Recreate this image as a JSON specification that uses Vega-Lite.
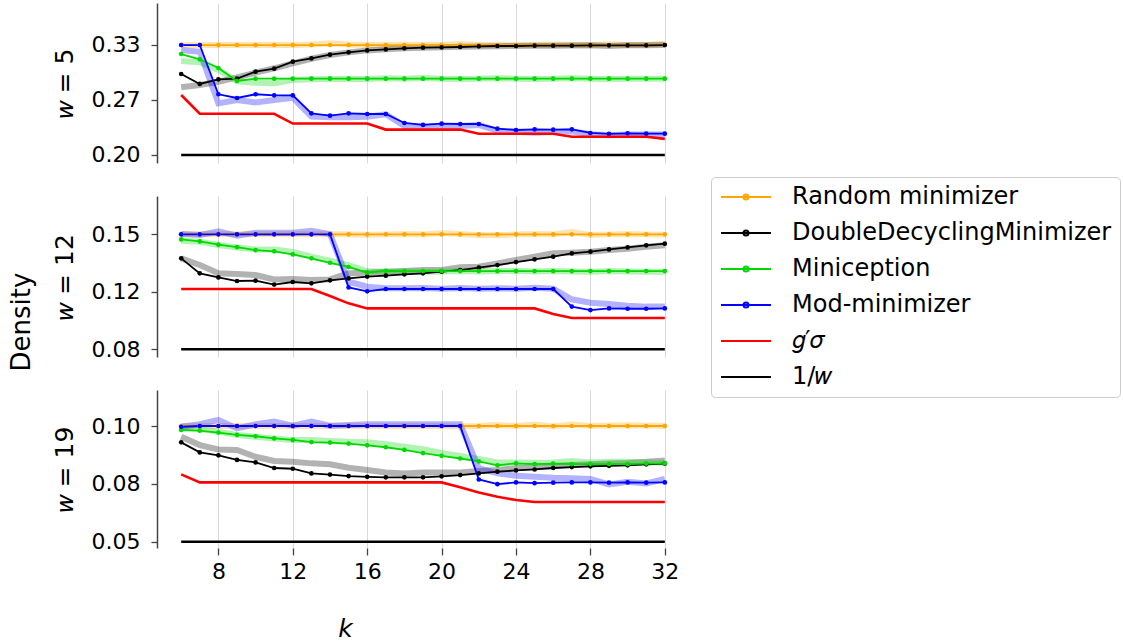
{
 "$schema": "https://vega.github.io/schema/vega-lite/v6.json",
 "padding": {"left": 9, "top": 3, "right": 0, "bottom": 0},
 "background": "white",
 "title": {"text": "Density", "orient": "left", "fontSize": 26, "font": "DejaVu Sans", "fontWeight": "normal", "color": "black", "anchor": "middle", "offset": 17},
 "config": {
  "font": "DejaVu Sans",
  "view": {"stroke": null},
  "axis": {"labelFont": "DejaVu Sans", "labelFontSize": 22, "labelColor": "black", "titleFont": "DejaVu Sans", "titleFontSize": 25, "titleFontWeight": "normal", "titleColor": "black", "grid": false},
  "legend": {"labelFont": "DejaVu Sans", "labelFontSize": 24, "labelColor": "black", "labelLimit": 0}
 },
 "datasets": {"d": [
  {"w":5,"k":6,"s":"R","v":0.3333,"b":0.3333},{"w":5,"k":7,"s":"R","v":0.3333,"b":0.3333},{"w":5,"k":8,"s":"R","v":0.3333,"b":0.3333},{"w":5,"k":9,"s":"R","v":0.3333,"b":0.3333},{"w":5,"k":10,"s":"R","v":0.3333,"b":0.3333},{"w":5,"k":11,"s":"R","v":0.3333,"b":0.3336},{"w":5,"k":12,"s":"R","v":0.3333,"b":0.3333},{"w":5,"k":13,"s":"R","v":0.3333,"b":0.3338},{"w":5,"k":14,"s":"R","v":0.3333,"b":0.3355},{"w":5,"k":15,"s":"R","v":0.3333,"b":0.3338},{"w":5,"k":16,"s":"R","v":0.3333,"b":0.3333},{"w":5,"k":17,"s":"R","v":0.3333,"b":0.3333},{"w":5,"k":18,"s":"R","v":0.3333,"b":0.3336},{"w":5,"k":19,"s":"R","v":0.3333,"b":0.3333},{"w":5,"k":20,"s":"R","v":0.3333,"b":0.3333},{"w":5,"k":21,"s":"R","v":0.3333,"b":0.3345},{"w":5,"k":22,"s":"R","v":0.3333,"b":0.3333},{"w":5,"k":23,"s":"R","v":0.3333,"b":0.3336},{"w":5,"k":24,"s":"R","v":0.3333,"b":0.3333},{"w":5,"k":25,"s":"R","v":0.3333,"b":0.3333},{"w":5,"k":26,"s":"R","v":0.3333,"b":0.3338},{"w":5,"k":27,"s":"R","v":0.3333,"b":0.3333},{"w":5,"k":28,"s":"R","v":0.3333,"b":0.3333},{"w":5,"k":29,"s":"R","v":0.3333,"b":0.3343},{"w":5,"k":30,"s":"R","v":0.3333,"b":0.3333},{"w":5,"k":31,"s":"R","v":0.3333,"b":0.3336},{"w":5,"k":32,"s":"R","v":0.3333,"b":0.3348},
  {"w":5,"k":6,"s":"D","v":0.2982,"b":0.2820},{"w":5,"k":7,"s":"D","v":0.2861,"b":0.2848},{"w":5,"k":8,"s":"D","v":0.2917,"b":0.2888},{"w":5,"k":9,"s":"D","v":0.2925,"b":0.2941},{"w":5,"k":10,"s":"D","v":0.3010,"b":0.2998},{"w":5,"k":11,"s":"D","v":0.3046,"b":0.3051},{"w":5,"k":12,"s":"D","v":0.3131,"b":0.3111},{"w":5,"k":13,"s":"D","v":0.3171,"b":0.3167},{"w":5,"k":14,"s":"D","v":0.3216,"b":0.3212},{"w":5,"k":15,"s":"D","v":0.3244,"b":0.3244},{"w":5,"k":16,"s":"D","v":0.3268,"b":0.3268},{"w":5,"k":17,"s":"D","v":0.3280,"b":0.3282},{"w":5,"k":18,"s":"D","v":0.3293,"b":0.3293},{"w":5,"k":19,"s":"D","v":0.3301,"b":0.3301},{"w":5,"k":20,"s":"D","v":0.3305,"b":0.3307},{"w":5,"k":21,"s":"D","v":0.3309,"b":0.3311},{"w":5,"k":22,"s":"D","v":0.3317,"b":0.3315},{"w":5,"k":23,"s":"D","v":0.3321,"b":0.3319},{"w":5,"k":24,"s":"D","v":0.3321,"b":0.3321},{"w":5,"k":25,"s":"D","v":0.3325,"b":0.3323},{"w":5,"k":26,"s":"D","v":0.3325,"b":0.3325},{"w":5,"k":27,"s":"D","v":0.3325,"b":0.3327},{"w":5,"k":28,"s":"D","v":0.3329,"b":0.3329},{"w":5,"k":29,"s":"D","v":0.3329,"b":0.3322},{"w":5,"k":30,"s":"D","v":0.3329,"b":0.3329},{"w":5,"k":31,"s":"D","v":0.3329,"b":0.3331},{"w":5,"k":32,"s":"D","v":0.3333,"b":0.3333},
  {"w":5,"k":6,"s":"M","v":0.3224,"b":0.3139},{"w":5,"k":7,"s":"M","v":0.3160,"b":0.3123},{"w":5,"k":8,"s":"M","v":0.3054,"b":0.3030},{"w":5,"k":9,"s":"M","v":0.2897,"b":0.2893},{"w":5,"k":10,"s":"M","v":0.2925,"b":0.2877},{"w":5,"k":11,"s":"M","v":0.2925,"b":0.2869},{"w":5,"k":12,"s":"M","v":0.2925,"b":0.2909},{"w":5,"k":13,"s":"M","v":0.2925,"b":0.2917},{"w":5,"k":14,"s":"M","v":0.2925,"b":0.2921},{"w":5,"k":15,"s":"M","v":0.2925,"b":0.2925},{"w":5,"k":16,"s":"M","v":0.2925,"b":0.2921},{"w":5,"k":17,"s":"M","v":0.2925,"b":0.2929},{"w":5,"k":18,"s":"M","v":0.2925,"b":0.2925},{"w":5,"k":19,"s":"M","v":0.2925,"b":0.2933},{"w":5,"k":20,"s":"M","v":0.2925,"b":0.2925},{"w":5,"k":21,"s":"M","v":0.2925,"b":0.2921},{"w":5,"k":22,"s":"M","v":0.2925,"b":0.2925},{"w":5,"k":23,"s":"M","v":0.2925,"b":0.2929},{"w":5,"k":24,"s":"M","v":0.2925,"b":0.2925},{"w":5,"k":25,"s":"M","v":0.2925,"b":0.2921},{"w":5,"k":26,"s":"M","v":0.2925,"b":0.2925},{"w":5,"k":27,"s":"M","v":0.2925,"b":0.2929},{"w":5,"k":28,"s":"M","v":0.2925,"b":0.2925},{"w":5,"k":29,"s":"M","v":0.2925,"b":0.2921},{"w":5,"k":30,"s":"M","v":0.2925,"b":0.2925},{"w":5,"k":31,"s":"M","v":0.2925,"b":0.2925},{"w":5,"k":32,"s":"M","v":0.2925,"b":0.2925},
  {"w":5,"k":6,"s":"X","v":0.3333,"b":0.3273},{"w":5,"k":7,"s":"X","v":0.3333,"b":0.3252},{"w":5,"k":8,"s":"X","v":0.2736,"b":0.2626},{"w":5,"k":9,"s":"X","v":0.2691,"b":0.2667},{"w":5,"k":10,"s":"X","v":0.2736,"b":0.2638},{"w":5,"k":11,"s":"X","v":0.2723,"b":0.2667},{"w":5,"k":12,"s":"X","v":0.2723,"b":0.2695},{"w":5,"k":13,"s":"X","v":0.2505,"b":0.2465},{"w":5,"k":14,"s":"X","v":0.2477,"b":0.2457},{"w":5,"k":15,"s":"X","v":0.2505,"b":0.2457},{"w":5,"k":16,"s":"X","v":0.2497,"b":0.2465},{"w":5,"k":17,"s":"X","v":0.2497,"b":0.2493},{"w":5,"k":18,"s":"X","v":0.2388,"b":0.2352},{"w":5,"k":19,"s":"X","v":0.2364,"b":0.2344},{"w":5,"k":20,"s":"X","v":0.2380,"b":0.2352},{"w":5,"k":21,"s":"X","v":0.2376,"b":0.2352},{"w":5,"k":22,"s":"X","v":0.2376,"b":0.2364},{"w":5,"k":23,"s":"X","v":0.2319,"b":0.2295},{"w":5,"k":24,"s":"X","v":0.2303,"b":0.2283},{"w":5,"k":25,"s":"X","v":0.2311,"b":0.2271},{"w":5,"k":26,"s":"X","v":0.2307,"b":0.2279},{"w":5,"k":27,"s":"X","v":0.2311,"b":0.2287},{"w":5,"k":28,"s":"X","v":0.2267,"b":0.2251},{"w":5,"k":29,"s":"X","v":0.2255,"b":0.2239},{"w":5,"k":30,"s":"X","v":0.2263,"b":0.2247},{"w":5,"k":31,"s":"X","v":0.2259,"b":0.2247},{"w":5,"k":32,"s":"X","v":0.2259,"b":0.2247},
  {"w":5,"k":6,"s":"G","v":0.2727},{"w":5,"k":7,"s":"G","v":0.25},{"w":5,"k":8,"s":"G","v":0.25},{"w":5,"k":9,"s":"G","v":0.25},{"w":5,"k":10,"s":"G","v":0.25},{"w":5,"k":11,"s":"G","v":0.25},{"w":5,"k":12,"s":"G","v":0.2381},{"w":5,"k":13,"s":"G","v":0.2381},{"w":5,"k":14,"s":"G","v":0.2381},{"w":5,"k":15,"s":"G","v":0.2381},{"w":5,"k":16,"s":"G","v":0.2381},{"w":5,"k":17,"s":"G","v":0.2308},{"w":5,"k":18,"s":"G","v":0.2308},{"w":5,"k":19,"s":"G","v":0.2308},{"w":5,"k":20,"s":"G","v":0.2308},{"w":5,"k":21,"s":"G","v":0.2308},{"w":5,"k":22,"s":"G","v":0.2258},{"w":5,"k":23,"s":"G","v":0.2258},{"w":5,"k":24,"s":"G","v":0.2258},{"w":5,"k":25,"s":"G","v":0.2258},{"w":5,"k":26,"s":"G","v":0.2258},{"w":5,"k":27,"s":"G","v":0.2222},{"w":5,"k":28,"s":"G","v":0.2222},{"w":5,"k":29,"s":"G","v":0.2222},{"w":5,"k":30,"s":"G","v":0.2222},{"w":5,"k":31,"s":"G","v":0.2222},{"w":5,"k":32,"s":"G","v":0.2195},
  {"w":5,"k":6,"s":"W","v":0.2},{"w":5,"k":32,"s":"W","v":0.2},
  {"w":12,"k":6,"s":"R","v":0.1538,"b":0.1538},{"w":12,"k":7,"s":"R","v":0.1538,"b":0.1538},{"w":12,"k":8,"s":"R","v":0.1538,"b":0.1538},{"w":12,"k":9,"s":"R","v":0.1538,"b":0.1538},{"w":12,"k":10,"s":"R","v":0.1538,"b":0.1538},{"w":12,"k":11,"s":"R","v":0.1538,"b":0.1538},{"w":12,"k":12,"s":"R","v":0.1538,"b":0.1538},{"w":12,"k":13,"s":"R","v":0.1538,"b":0.1538},{"w":12,"k":14,"s":"R","v":0.1538,"b":0.1538},{"w":12,"k":15,"s":"R","v":0.1538,"b":0.1538},{"w":12,"k":16,"s":"R","v":0.1538,"b":0.1535},{"w":12,"k":17,"s":"R","v":0.1538,"b":0.1538},{"w":12,"k":18,"s":"R","v":0.1538,"b":0.1540},{"w":12,"k":19,"s":"R","v":0.1538,"b":0.1538},{"w":12,"k":20,"s":"R","v":0.1538,"b":0.1546},{"w":12,"k":21,"s":"R","v":0.1538,"b":0.1540},{"w":12,"k":22,"s":"R","v":0.1538,"b":0.1534},{"w":12,"k":23,"s":"R","v":0.1538,"b":0.1533},{"w":12,"k":24,"s":"R","v":0.1538,"b":0.1538},{"w":12,"k":25,"s":"R","v":0.1538,"b":0.1540},{"w":12,"k":26,"s":"R","v":0.1538,"b":0.1538},{"w":12,"k":27,"s":"R","v":0.1538,"b":0.1552},{"w":12,"k":28,"s":"R","v":0.1538,"b":0.1534},{"w":12,"k":29,"s":"R","v":0.1538,"b":0.1538},{"w":12,"k":30,"s":"R","v":0.1538,"b":0.1541},{"w":12,"k":31,"s":"R","v":0.1538,"b":0.1538},{"w":12,"k":32,"s":"R","v":0.1538,"b":0.1535},
  {"w":12,"k":6,"s":"D","v":0.1391,"b":0.1391},{"w":12,"k":7,"s":"D","v":0.1299,"b":0.1350},{"w":12,"k":8,"s":"D","v":0.1274,"b":0.1299},{"w":12,"k":9,"s":"D","v":0.1252,"b":0.1295},{"w":12,"k":10,"s":"D","v":0.1254,"b":0.1289},{"w":12,"k":11,"s":"D","v":0.1230,"b":0.1262},{"w":12,"k":12,"s":"D","v":0.1246,"b":0.1264},{"w":12,"k":13,"s":"D","v":0.1238,"b":0.1258},{"w":12,"k":14,"s":"D","v":0.1256,"b":0.1262},{"w":12,"k":15,"s":"D","v":0.1268,"b":0.1299},{"w":12,"k":16,"s":"D","v":0.1279,"b":0.1303},{"w":12,"k":17,"s":"D","v":0.1285,"b":0.1309},{"w":12,"k":18,"s":"D","v":0.1293,"b":0.1313},{"w":12,"k":19,"s":"D","v":0.1299,"b":0.1319},{"w":12,"k":20,"s":"D","v":0.1309,"b":0.1319},{"w":12,"k":21,"s":"D","v":0.1319,"b":0.1336},{"w":12,"k":22,"s":"D","v":0.1334,"b":0.1340},{"w":12,"k":23,"s":"D","v":0.1350,"b":0.1360},{"w":12,"k":24,"s":"D","v":0.1368,"b":0.1381},{"w":12,"k":25,"s":"D","v":0.1385,"b":0.1401},{"w":12,"k":26,"s":"D","v":0.1401,"b":0.1422},{"w":12,"k":27,"s":"D","v":0.1422,"b":0.1426},{"w":12,"k":28,"s":"D","v":0.1432,"b":0.1432},{"w":12,"k":29,"s":"D","v":0.1446,"b":0.1442},{"w":12,"k":30,"s":"D","v":0.1458,"b":0.1450},{"w":12,"k":31,"s":"D","v":0.1471,"b":0.1462},{"w":12,"k":32,"s":"D","v":0.1481,"b":0.1471},
  {"w":12,"k":6,"s":"M","v":0.1507,"b":0.1499},{"w":12,"k":7,"s":"M","v":0.1495,"b":0.1493},{"w":12,"k":8,"s":"M","v":0.1475,"b":0.1473},{"w":12,"k":9,"s":"M","v":0.1460,"b":0.1458},{"w":12,"k":10,"s":"M","v":0.1442,"b":0.1446},{"w":12,"k":11,"s":"M","v":0.1434,"b":0.1446},{"w":12,"k":12,"s":"M","v":0.1415,"b":0.1430},{"w":12,"k":13,"s":"M","v":0.1391,"b":0.1401},{"w":12,"k":14,"s":"M","v":0.1364,"b":0.1377},{"w":12,"k":15,"s":"M","v":0.1338,"b":0.1350},{"w":12,"k":16,"s":"M","v":0.1303,"b":0.1313},{"w":12,"k":17,"s":"M","v":0.1315,"b":0.1309},{"w":12,"k":18,"s":"M","v":0.1313,"b":0.1311},{"w":12,"k":19,"s":"M","v":0.1313,"b":0.1309},{"w":12,"k":20,"s":"M","v":0.1313,"b":0.1311},{"w":12,"k":21,"s":"M","v":0.1313,"b":0.1313},{"w":12,"k":22,"s":"M","v":0.1313,"b":0.1311},{"w":12,"k":23,"s":"M","v":0.1313,"b":0.1313},{"w":12,"k":24,"s":"M","v":0.1313,"b":0.1315},{"w":12,"k":25,"s":"M","v":0.1313,"b":0.1311},{"w":12,"k":26,"s":"M","v":0.1313,"b":0.1313},{"w":12,"k":27,"s":"M","v":0.1313,"b":0.1311},{"w":12,"k":28,"s":"M","v":0.1313,"b":0.1309},{"w":12,"k":29,"s":"M","v":0.1313,"b":0.1313},{"w":12,"k":30,"s":"M","v":0.1313,"b":0.1311},{"w":12,"k":31,"s":"M","v":0.1313,"b":0.1309},{"w":12,"k":32,"s":"M","v":0.1313,"b":0.1309},
  {"w":12,"k":6,"s":"X","v":0.1538,"b":0.1540},{"w":12,"k":7,"s":"X","v":0.1538,"b":0.1534},{"w":12,"k":8,"s":"X","v":0.1538,"b":0.1556},{"w":12,"k":9,"s":"X","v":0.1538,"b":0.1530},{"w":12,"k":10,"s":"X","v":0.1538,"b":0.1548},{"w":12,"k":11,"s":"X","v":0.1538,"b":0.1548},{"w":12,"k":12,"s":"X","v":0.1538,"b":0.1548},{"w":12,"k":13,"s":"X","v":0.1538,"b":0.1560},{"w":12,"k":14,"s":"X","v":0.1538,"b":0.1540},{"w":12,"k":15,"s":"X","v":0.1213,"b":0.1248},{"w":12,"k":16,"s":"X","v":0.1189,"b":0.1217},{"w":12,"k":17,"s":"X","v":0.1203,"b":0.1207},{"w":12,"k":18,"s":"X","v":0.1203,"b":0.1207},{"w":12,"k":19,"s":"X","v":0.1203,"b":0.1209},{"w":12,"k":20,"s":"X","v":0.1203,"b":0.1205},{"w":12,"k":21,"s":"X","v":0.1203,"b":0.1209},{"w":12,"k":22,"s":"X","v":0.1203,"b":0.1205},{"w":12,"k":23,"s":"X","v":0.1203,"b":0.1207},{"w":12,"k":24,"s":"X","v":0.1203,"b":0.1205},{"w":12,"k":25,"s":"X","v":0.1203,"b":0.1211},{"w":12,"k":26,"s":"X","v":0.1203,"b":0.1205},{"w":12,"k":27,"s":"X","v":0.1095,"b":0.1140},{"w":12,"k":28,"s":"X","v":0.1074,"b":0.1119},{"w":12,"k":29,"s":"X","v":0.1084,"b":0.1111},{"w":12,"k":30,"s":"X","v":0.1082,"b":0.1101},{"w":12,"k":31,"s":"X","v":0.1082,"b":0.1095},{"w":12,"k":32,"s":"X","v":0.1084,"b":0.1095},
  {"w":12,"k":6,"s":"G","v":0.1203},{"w":12,"k":7,"s":"G","v":0.1203},{"w":12,"k":8,"s":"G","v":0.1203},{"w":12,"k":9,"s":"G","v":0.1203},{"w":12,"k":10,"s":"G","v":0.1203},{"w":12,"k":11,"s":"G","v":0.1203},{"w":12,"k":12,"s":"G","v":0.1203},{"w":12,"k":13,"s":"G","v":0.1203},{"w":12,"k":14,"s":"G","v":0.1160},{"w":12,"k":15,"s":"G","v":0.1115},{"w":12,"k":16,"s":"G","v":0.1084},{"w":12,"k":17,"s":"G","v":0.1084},{"w":12,"k":18,"s":"G","v":0.1084},{"w":12,"k":19,"s":"G","v":0.1084},{"w":12,"k":20,"s":"G","v":0.1084},{"w":12,"k":21,"s":"G","v":0.1084},{"w":12,"k":22,"s":"G","v":0.1084},{"w":12,"k":23,"s":"G","v":0.1084},{"w":12,"k":24,"s":"G","v":0.1084},{"w":12,"k":25,"s":"G","v":0.1084},{"w":12,"k":26,"s":"G","v":0.1050},{"w":12,"k":27,"s":"G","v":0.1025},{"w":12,"k":28,"s":"G","v":0.1025},{"w":12,"k":29,"s":"G","v":0.1025},{"w":12,"k":30,"s":"G","v":0.1025},{"w":12,"k":31,"s":"G","v":0.1025},{"w":12,"k":32,"s":"G","v":0.1025},
  {"w":12,"k":6,"s":"W","v":0.08333},{"w":12,"k":32,"s":"W","v":0.08333},
  {"w":19,"k":6,"s":"R","v":0.1,"b":0.1},{"w":19,"k":7,"s":"R","v":0.1,"b":0.1},{"w":19,"k":8,"s":"R","v":0.1,"b":0.1},{"w":19,"k":9,"s":"R","v":0.1,"b":0.1},{"w":19,"k":10,"s":"R","v":0.1,"b":0.1},{"w":19,"k":11,"s":"R","v":0.1,"b":0.1},{"w":19,"k":12,"s":"R","v":0.1,"b":0.1},{"w":19,"k":13,"s":"R","v":0.1,"b":0.1},{"w":19,"k":14,"s":"R","v":0.1,"b":0.1},{"w":19,"k":15,"s":"R","v":0.1,"b":0.1},{"w":19,"k":16,"s":"R","v":0.1,"b":0.1},{"w":19,"k":17,"s":"R","v":0.1,"b":0.1},{"w":19,"k":18,"s":"R","v":0.1,"b":0.1},{"w":19,"k":19,"s":"R","v":0.1,"b":0.1},{"w":19,"k":20,"s":"R","v":0.1,"b":0.1},{"w":19,"k":21,"s":"R","v":0.1,"b":0.0998},{"w":19,"k":22,"s":"R","v":0.1,"b":0.1},{"w":19,"k":23,"s":"R","v":0.1,"b":0.1004},{"w":19,"k":24,"s":"R","v":0.1,"b":0.1},{"w":19,"k":25,"s":"R","v":0.1,"b":0.1006},{"w":19,"k":26,"s":"R","v":0.1,"b":0.0998},{"w":19,"k":27,"s":"R","v":0.1,"b":0.1006},{"w":19,"k":28,"s":"R","v":0.1,"b":0.1},{"w":19,"k":29,"s":"R","v":0.1,"b":0.1002},{"w":19,"k":30,"s":"R","v":0.1,"b":0.1003},{"w":19,"k":31,"s":"R","v":0.1,"b":0.1002},{"w":19,"k":32,"s":"R","v":0.1,"b":0.1},
  {"w":19,"k":6,"s":"D","v":0.0933,"b":0.0956},{"w":19,"k":7,"s":"D","v":0.0892,"b":0.0922},{"w":19,"k":8,"s":"D","v":0.0880,"b":0.0904},{"w":19,"k":9,"s":"D","v":0.0861,"b":0.0902},{"w":19,"k":10,"s":"D","v":0.0851,"b":0.0874},{"w":19,"k":11,"s":"D","v":0.0828,"b":0.0857},{"w":19,"k":12,"s":"D","v":0.0825,"b":0.0854},{"w":19,"k":13,"s":"D","v":0.0806,"b":0.0847},{"w":19,"k":14,"s":"D","v":0.0801,"b":0.0843},{"w":19,"k":15,"s":"D","v":0.0795,"b":0.0829},{"w":19,"k":16,"s":"D","v":0.0792,"b":0.0820},{"w":19,"k":17,"s":"D","v":0.0790,"b":0.0810},{"w":19,"k":18,"s":"D","v":0.0790,"b":0.0806},{"w":19,"k":19,"s":"D","v":0.0790,"b":0.0810},{"w":19,"k":20,"s":"D","v":0.0794,"b":0.0810},{"w":19,"k":21,"s":"D","v":0.0799,"b":0.0810},{"w":19,"k":22,"s":"D","v":0.0806,"b":0.0816},{"w":19,"k":23,"s":"D","v":0.0813,"b":0.0820},{"w":19,"k":24,"s":"D","v":0.0818,"b":0.0827},{"w":19,"k":25,"s":"D","v":0.0822,"b":0.0832},{"w":19,"k":26,"s":"D","v":0.0828,"b":0.0836},{"w":19,"k":27,"s":"D","v":0.0832,"b":0.0840},{"w":19,"k":28,"s":"D","v":0.0835,"b":0.0843},{"w":19,"k":29,"s":"D","v":0.0837,"b":0.0846},{"w":19,"k":30,"s":"D","v":0.0839,"b":0.0849},{"w":19,"k":31,"s":"D","v":0.0843,"b":0.0854},{"w":19,"k":32,"s":"D","v":0.0846,"b":0.0859},
  {"w":19,"k":6,"s":"M","v":0.0984,"b":0.0990},{"w":19,"k":7,"s":"M","v":0.0981,"b":0.0988},{"w":19,"k":8,"s":"M","v":0.0973,"b":0.0977},{"w":19,"k":9,"s":"M","v":0.0964,"b":0.0963},{"w":19,"k":10,"s":"M","v":0.0958,"b":0.0956},{"w":19,"k":11,"s":"M","v":0.0949,"b":0.0949},{"w":19,"k":12,"s":"M","v":0.0943,"b":0.0943},{"w":19,"k":13,"s":"M","v":0.0934,"b":0.0943},{"w":19,"k":14,"s":"M","v":0.0932,"b":0.0939},{"w":19,"k":15,"s":"M","v":0.0928,"b":0.0936},{"w":19,"k":16,"s":"M","v":0.0921,"b":0.0933},{"w":19,"k":17,"s":"M","v":0.0913,"b":0.0925},{"w":19,"k":18,"s":"M","v":0.0902,"b":0.0915},{"w":19,"k":19,"s":"M","v":0.0889,"b":0.0905},{"w":19,"k":20,"s":"M","v":0.0878,"b":0.0890},{"w":19,"k":21,"s":"M","v":0.0867,"b":0.0877},{"w":19,"k":22,"s":"M","v":0.0855,"b":0.0865},{"w":19,"k":23,"s":"M","v":0.0839,"b":0.0851},{"w":19,"k":24,"s":"M","v":0.0847,"b":0.0851},{"w":19,"k":25,"s":"M","v":0.0844,"b":0.0850},{"w":19,"k":26,"s":"M","v":0.0846,"b":0.0851},{"w":19,"k":27,"s":"M","v":0.0844,"b":0.0857},{"w":19,"k":28,"s":"M","v":0.0844,"b":0.0851},{"w":19,"k":29,"s":"M","v":0.0844,"b":0.0854},{"w":19,"k":30,"s":"M","v":0.0844,"b":0.0854},{"w":19,"k":31,"s":"M","v":0.0846,"b":0.0851},{"w":19,"k":32,"s":"M","v":0.0847,"b":0.0850},
  {"w":19,"k":6,"s":"X","v":0.0997,"b":0.0997},{"w":19,"k":7,"s":"X","v":0.1,"b":0.1007},{"w":19,"k":8,"s":"X","v":0.1,"b":0.1025},{"w":19,"k":9,"s":"X","v":0.1,"b":0.0990},{"w":19,"k":10,"s":"X","v":0.1,"b":0.1007},{"w":19,"k":11,"s":"X","v":0.1,"b":0.1018},{"w":19,"k":12,"s":"X","v":0.1,"b":0.1001},{"w":19,"k":13,"s":"X","v":0.1,"b":0.1018},{"w":19,"k":14,"s":"X","v":0.1,"b":0.1001},{"w":19,"k":15,"s":"X","v":0.1,"b":0.1004},{"w":19,"k":16,"s":"X","v":0.1,"b":0.1007},{"w":19,"k":17,"s":"X","v":0.1,"b":0.1007},{"w":19,"k":18,"s":"X","v":0.1,"b":0.1007},{"w":19,"k":19,"s":"X","v":0.1,"b":0.1007},{"w":19,"k":20,"s":"X","v":0.1,"b":0.1007},{"w":19,"k":21,"s":"X","v":0.1,"b":0.1007},{"w":19,"k":22,"s":"X","v":0.0781,"b":0.0827},{"w":19,"k":23,"s":"X","v":0.0762,"b":0.0806},{"w":19,"k":24,"s":"X","v":0.0769,"b":0.0796},{"w":19,"k":25,"s":"X","v":0.0766,"b":0.0792},{"w":19,"k":26,"s":"X","v":0.0768,"b":0.0788},{"w":19,"k":27,"s":"X","v":0.0769,"b":0.0786},{"w":19,"k":28,"s":"X","v":0.0769,"b":0.0783},{"w":19,"k":29,"s":"X","v":0.0768,"b":0.0761},{"w":19,"k":30,"s":"X","v":0.0769,"b":0.0772},{"w":19,"k":31,"s":"X","v":0.0768,"b":0.0765},{"w":19,"k":32,"s":"X","v":0.0769,"b":0.0783},
  {"w":19,"k":6,"s":"G","v":0.0802},{"w":19,"k":7,"s":"G","v":0.0769},{"w":19,"k":8,"s":"G","v":0.0769},{"w":19,"k":9,"s":"G","v":0.0769},{"w":19,"k":10,"s":"G","v":0.0769},{"w":19,"k":11,"s":"G","v":0.0769},{"w":19,"k":12,"s":"G","v":0.0769},{"w":19,"k":13,"s":"G","v":0.0769},{"w":19,"k":14,"s":"G","v":0.0769},{"w":19,"k":15,"s":"G","v":0.0769},{"w":19,"k":16,"s":"G","v":0.0769},{"w":19,"k":17,"s":"G","v":0.0769},{"w":19,"k":18,"s":"G","v":0.0769},{"w":19,"k":19,"s":"G","v":0.0769},{"w":19,"k":20,"s":"G","v":0.0769},{"w":19,"k":21,"s":"G","v":0.0749},{"w":19,"k":22,"s":"G","v":0.0728},{"w":19,"k":23,"s":"G","v":0.0710},{"w":19,"k":24,"s":"G","v":0.0697},{"w":19,"k":25,"s":"G","v":0.0689},{"w":19,"k":26,"s":"G","v":0.0689},{"w":19,"k":27,"s":"G","v":0.0689},{"w":19,"k":28,"s":"G","v":0.0689},{"w":19,"k":29,"s":"G","v":0.0689},{"w":19,"k":30,"s":"G","v":0.0689},{"w":19,"k":31,"s":"G","v":0.0689},{"w":19,"k":32,"s":"G","v":0.0689},
  {"w":19,"k":6,"s":"W","v":0.05263},{"w":19,"k":32,"s":"W","v":0.05263}
 ]},
 "spacing": 33,
 "bounds": "flush",
 "vconcat": [
  {
   "width": 532, "height": 160,
   "data": {"name": "d"},
   "transform": [{"filter": {"field": "w", "equal": 5}}],
   "encoding": {
    "x": {"field": "k", "type": "quantitative", "scale": {"domain": [4.7, 33.3], "nice": false, "zero": false}, "axis": {"values": [8,12,16,20,24,28,32], "grid": true, "gridColor": "#d9d9d9", "gridWidth": 1, "labels": false, "ticks": false, "domain": false, "title": null}},
    "y": {"field": "v", "type": "quantitative", "scale": {"domain": [0.19030, 0.38424], "nice": false, "zero": false}, "axis": {"values": [0.2, 0.266667, 0.333333], "format": ".2f", "title": "𝑤 = 5", "titlePadding": 14, "domainColor": "#444", "domainWidth": 1.5, "tickColor": "#444", "tickSize": 6, "tickWidth": 1.3, "labelPadding": 11}}
   },
   "layer": [
    {"transform": [{"filter": {"field": "b", "valid": true}}], "mark": {"type": "line", "strokeWidth": 6, "opacity": 0.3},
     "encoding": {"y": {"field": "b", "type": "quantitative"}, "color": {"field": "s", "type": "nominal", "scale": {"domain": ["R","D","M","X","G","W"], "range": ["#ffa500","#000000","#00d800","#0000ff","#ff0000","#000000"]}, "legend": null}}},
    {"transform": [{"filter": {"field": "s", "oneOf": ["R","D","M","X"]}}], "mark": {"type": "line", "strokeWidth": 1.8},
     "encoding": {"color": {"field": "s", "type": "nominal", "legend": null}}},
    {"transform": [{"filter": {"field": "s", "oneOf": ["R","D","M","X"]}}], "mark": {"type": "point", "filled": true, "size": 22, "opacity": 1},
     "encoding": {"color": {"field": "s", "type": "nominal", "legend": null}}},
    {"transform": [{"filter": {"field": "s", "oneOf": ["G","W"]}}], "mark": {"type": "line", "strokeWidth": 2.6},
     "encoding": {"color": {"field": "s", "type": "nominal", "legend": null}}},
    {"transform": [{"filter": {"field": "k", "lt": 0}}], "mark": {"type": "point", "filled": false, "strokeWidth": 2, "opacity": 1},
     "encoding": {
      "stroke": {"field": "lab", "type": "nominal", "scale": {"domain": ["Random minimizer","DoubleDecyclingMinimizer","Miniception","Mod-minimizer","𝑔′𝜎","1/𝑤"], "range": ["#ffa500","#000000","#00d800","#0000ff","#ff0000","#000000"]},
        "legend": {"title": null, "orient": "none", "legendX": 554, "legendY": 174, "symbolSize": 400, "symbolStrokeWidth": 2, "labelOffset": 49, "padding": 8, "rowPadding": 12, "strokeColor": "#cccccc", "fillColor": "white", "cornerRadius": 4, "labelFontSize": 24, "labelLimit": 0}},
      "shape": {"field": "lab", "type": "nominal", "scale": {"domain": ["Random minimizer","DoubleDecyclingMinimizer","Miniception","Mod-minimizer","𝑔′𝜎","1/𝑤"], "range": ["M-1,0H4M1.75,0A0.25,0.25,0,1,1,1.25,0A0.25,0.25,0,1,1,1.75,0","M-1,0H4M1.75,0A0.25,0.25,0,1,1,1.25,0A0.25,0.25,0,1,1,1.75,0","M-1,0H4M1.75,0A0.25,0.25,0,1,1,1.25,0A0.25,0.25,0,1,1,1.75,0","M-1,0H4M1.75,0A0.25,0.25,0,1,1,1.25,0A0.25,0.25,0,1,1,1.75,0","M-1,0H4","M-1,0H4"]}}
     }}
   ]
  },
  {
   "width": 532, "height": 161,
   "data": {"name": "d"},
   "transform": [{"filter": {"field": "w", "equal": 12}}],
   "encoding": {
    "x": {"field": "k", "type": "quantitative", "scale": {"domain": [4.7, 33.3], "nice": false, "zero": false}, "axis": {"values": [8,12,16,20,24,28,32], "grid": true, "gridColor": "#d9d9d9", "gridWidth": 1, "labels": false, "ticks": false, "domain": false, "title": null}},
    "y": {"field": "v", "type": "quantitative", "scale": {"domain": [0.07861, 0.17733], "nice": false, "zero": false}, "axis": {"values": [0.083333, 0.118590, 0.153846], "format": ".2f", "title": "𝑤 = 12", "titlePadding": 14, "domainColor": "#444", "domainWidth": 1.5, "tickColor": "#444", "tickSize": 6, "tickWidth": 1.3, "labelPadding": 11}},
    "color": {"field": "s", "type": "nominal", "scale": {"domain": ["R","D","M","X","G","W"], "range": ["#ffa500","#000000","#00d800","#0000ff","#ff0000","#000000"]}, "legend": null}
   },
   "layer": [
    {"transform": [{"filter": {"field": "b", "valid": true}}], "mark": {"type": "line", "strokeWidth": 6, "opacity": 0.3},
     "encoding": {"y": {"field": "b", "type": "quantitative"}}},
    {"transform": [{"filter": {"field": "s", "oneOf": ["R","D","M","X"]}}], "mark": {"type": "line", "strokeWidth": 1.8}},
    {"transform": [{"filter": {"field": "s", "oneOf": ["R","D","M","X"]}}], "mark": {"type": "point", "filled": true, "size": 22, "opacity": 1}},
    {"transform": [{"filter": {"field": "s", "oneOf": ["G","W"]}}], "mark": {"type": "line", "strokeWidth": 2.6}}
   ]
  },
  {
   "width": 532, "height": 158,
   "data": {"name": "d"},
   "transform": [{"filter": {"field": "w", "equal": 19}}],
   "encoding": {
    "x": {"field": "k", "type": "quantitative", "scale": {"domain": [4.7, 33.3], "nice": false, "zero": false}, "axis": {"values": [8,12,16,20,24,28,32], "grid": true, "gridColor": "#d9d9d9", "gridWidth": 1, "domain": false, "ticks": true, "tickSize": 7, "tickColor": "#444", "tickWidth": 1.3, "labelPadding": 6, "title": "k", "titleFontStyle": "italic", "titleX": 188, "titleY": 80, "titleAlign": "center", "titleBaseline": "middle"}},
    "y": {"field": "v", "type": "quantitative", "scale": {"domain": [0.05005, 0.11474], "nice": false, "zero": false}, "axis": {"values": [0.052632, 0.076316, 0.1], "format": ".2f", "title": "𝑤 = 19", "titlePadding": 14, "domainColor": "#444", "domainWidth": 1.5, "tickColor": "#444", "tickSize": 6, "tickWidth": 1.3, "labelPadding": 11}},
    "color": {"field": "s", "type": "nominal", "scale": {"domain": ["R","D","M","X","G","W"], "range": ["#ffa500","#000000","#00d800","#0000ff","#ff0000","#000000"]}, "legend": null}
   },
   "layer": [
    {"transform": [{"filter": {"field": "b", "valid": true}}], "mark": {"type": "line", "strokeWidth": 6, "opacity": 0.3},
     "encoding": {"y": {"field": "b", "type": "quantitative"}}},
    {"transform": [{"filter": {"field": "s", "oneOf": ["R","D","M","X"]}}], "mark": {"type": "line", "strokeWidth": 1.8}},
    {"transform": [{"filter": {"field": "s", "oneOf": ["R","D","M","X"]}}], "mark": {"type": "point", "filled": true, "size": 22, "opacity": 1}},
    {"transform": [{"filter": {"field": "s", "oneOf": ["G","W"]}}], "mark": {"type": "line", "strokeWidth": 2.6}}
   ]
  }
 ]
}
